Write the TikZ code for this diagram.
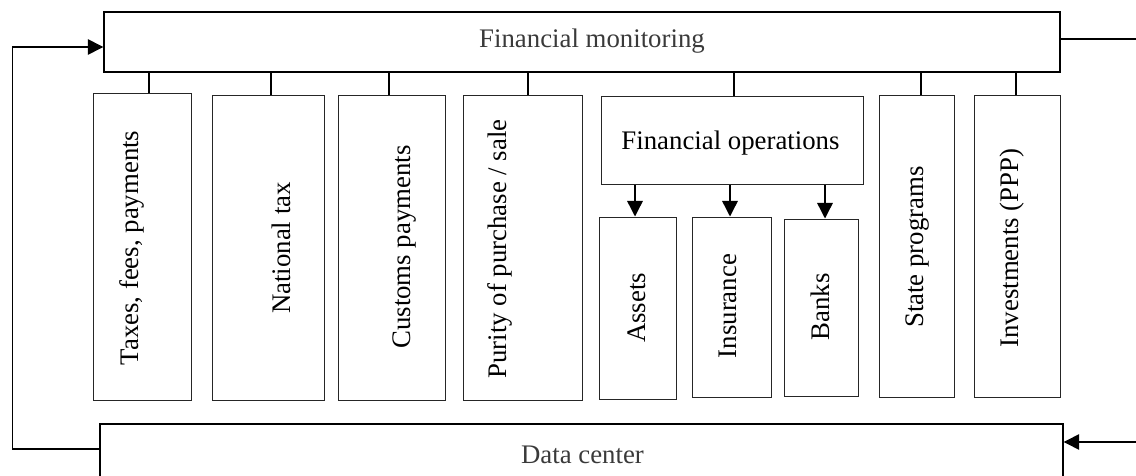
\documentclass[tikz,border=0pt]{standalone}
\usepackage{fontspec}
\setmainfont{Liberation Serif}
\usetikzlibrary{arrows.meta,calc}
\definecolor{labelgray}{HTML}{3A3A3A}
\begin{document}
\begin{tikzpicture}[x=1pt,y=-1pt,
  mainbox/.style={draw=black,line width=1.4pt,inner sep=0pt},
  colbox/.style={draw=black!85,line width=1pt,inner sep=0pt},
  vlabel/.style={rotate=90,inner sep=0pt,font=\fontsize{26.8}{30}\selectfont},
  hlabel/.style={inner sep=0pt,anchor=base,font=\fontsize{26.8}{30}\selectfont},
  link/.style={line width=1.1pt},
  flow/.style={line width=1.4pt,-{Triangle[length=15.5pt,width=15.5pt]}}]
\useasboundingbox (0,0) rectangle (1136,476);

% monitoring and data centre
\node[mainbox,minimum width=956pt,minimum height=60pt] (mon) at (582,42) {};
\node[hlabel,text=labelgray] (monlab) at (592,48) {Financial monitoring};
\node[mainbox,minimum width=963pt,minimum height=66pt] (dc) at (581.5,457) {};
\node[hlabel,text=labelgray] (dclab) at (582.5,463) {Data center};

% column boxes
\node[colbox,minimum width=98pt,minimum height=306pt] (tax) at (142,247) {};
\node[colbox,minimum width=112pt,minimum height=304pt] (nat) at (268,248) {};
\node[colbox,minimum width=107pt,minimum height=304pt] (cus) at (391.5,248) {};
\node[colbox,minimum width=119pt,minimum height=304pt] (pur) at (522.5,248) {};
\node[colbox,minimum width=262pt,minimum height=88pt] (fop) at (732,141) {};
\node[colbox,minimum width=77pt,minimum height=182pt] (ast) at (637.5,308) {};
\node[colbox,minimum width=79pt,minimum height=180pt] (ins) at (731.5,307) {};
\node[colbox,minimum width=74pt,minimum height=177pt] (bnk) at (821,307.5) {};
\node[colbox,minimum width=75pt,minimum height=301pt] (stp) at (916.5,246.5) {};
\node[colbox,minimum width=86pt,minimum height=301pt] (inv) at (1017,246.5) {};

% labels
\node[vlabel] (taxlab) at (132,248) {Taxes, fees, payments};
\node[vlabel] (natlab) at (281,248) {National tax};
\node[vlabel] (cuslab) at (405,247) {Customs payments};
\node[vlabel] (purlab) at (500,249) {Purity of purchase / sale};
\node[hlabel] (foplab) at (730.5,150) {Financial operations};
\node[vlabel] (astlab) at (637,308) {Assets};
\node[vlabel] (inslab) at (727.5,306) {Insurance};
\node[vlabel] (bnklab) at (820,307) {Banks};
\node[vlabel] (stplab) at (918,247) {State programs};
\node[vlabel] (invlab) at (1012,248) {Investments (PPP)};

% links from monitoring to the columns
\draw[link] ([xshift=7pt]tax.north) -- ([xshift=7pt]tax.north |- mon.south);
\draw[link] ([xshift=3pt]nat.north) -- ([xshift=3pt]nat.north |- mon.south);
\draw[link] ([xshift=-2.5pt]cus.north) -- ([xshift=-2.5pt]cus.north |- mon.south);
\draw[link] ([xshift=5.5pt]pur.north) -- ([xshift=5.5pt]pur.north |- mon.south);
\draw[link] ([xshift=2pt]fop.north) -- ([xshift=2pt]fop.north |- mon.south);
\draw[link] ([xshift=4.5pt]stp.north) -- ([xshift=4.5pt]stp.north |- mon.south);
\draw[link] ([xshift=-1pt]inv.north) -- ([xshift=-1pt]inv.north |- mon.south);

% financial operations branches
\draw[flow] ([xshift=-2.5pt]ast.north |- fop.south) -- ([xshift=-2.5pt]ast.north);
\draw[flow] ([xshift=-1.5pt]ins.north |- fop.south) -- ([xshift=-1.5pt]ins.north);
\draw[flow] ([xshift=4pt]bnk.north |- fop.south) -- ([xshift=4pt]bnk.north);

% feedback loop and external links
\coordinate (lb) at (12.5,449);
\coordinate (lt) at (12.5,47);
\coordinate (rt) at (1136,39);
\coordinate (rb) at (1136,442);
\draw[flow] (dc.west |- lb) -- (lb) -- (lt) -- (mon.west |- lt);
\draw[link,line width=1.4pt] (mon.east |- rt) -- (rt);
\draw[flow] (rb) -- (dc.east |- rb);
\end{tikzpicture}
\end{document}
